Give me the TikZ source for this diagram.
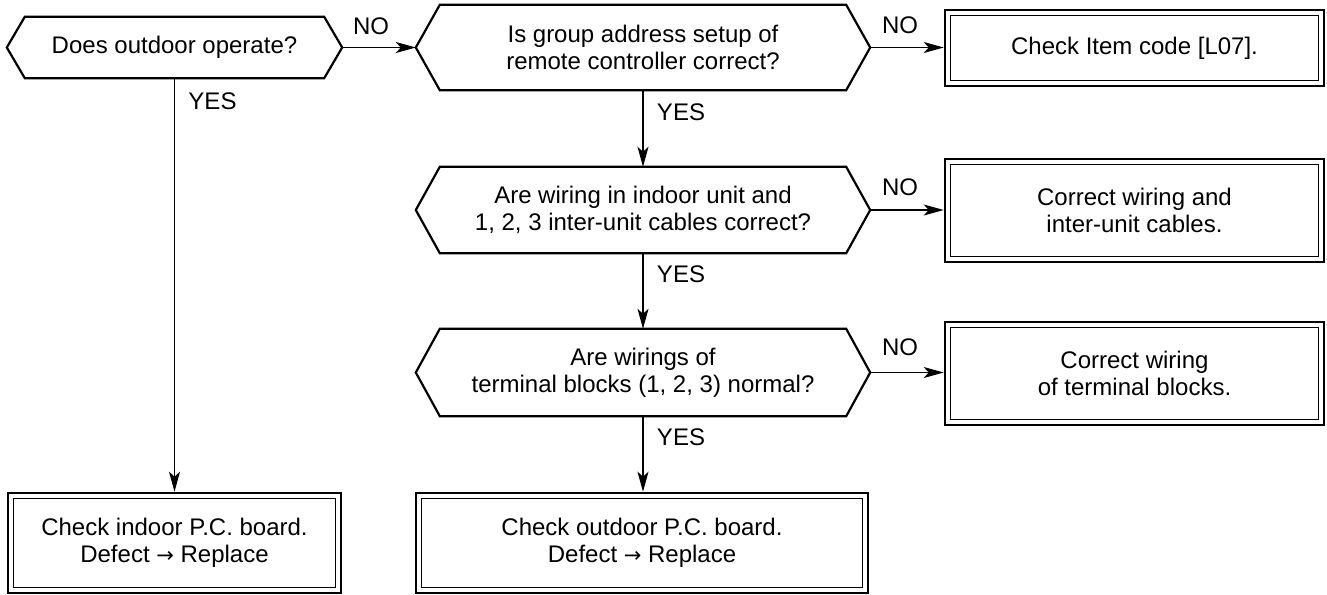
\documentclass[tikz,border=0pt]{standalone}
\usepackage{fontspec}
\setmainfont{Liberation Sans}
\newfontfamily\arrowfont{DejaVu Sans}
\usetikzlibrary{arrows.meta}
\begin{document}
\begin{tikzpicture}[x=1pt,y=1pt,
  every node/.style={font=\fontsize{24}{27}\selectfont},
  hexnode/.style={rectangle,inner sep=0pt,align=center},
  hexline/.style={line width=2.2pt,line join=miter},
  outerbox/.style={draw,line width=2.6pt,rectangle,inner sep=0pt,align=center},
  innerline/.style={line width=1.3pt},
  conn/.style={line width=1.2pt,-{Stealth[length=20pt,width=11pt,inset=5pt]}},
  lbl/.style={inner sep=0pt}
]
\useasboundingbox (0,0) rectangle (1327,-594);

% decision nodes
\node[hexnode,minimum width=335pt,minimum height=61pt] (h1) at (174.5,-47.5) {Does outdoor operate?};
\node[hexnode,minimum width=454pt,minimum height=85pt] (h2) at (643,-47.5) {Is group address setup of\\remote controller correct?};
\node[hexnode,minimum width=454pt,minimum height=86pt] (h3) at (643,-210) {Are wiring in indoor unit and\\1, 2, 3 inter-unit cables correct?};
\node[hexnode,minimum width=454pt,minimum height=87pt] (h4) at (643,-372.5) {Are wirings of\\terminal blocks (1, 2, 3) normal?};

\draw[hexline] (h1.west) -- ([xshift=18pt]h1.north west) -- ([xshift=-18pt]h1.north east) -- (h1.east)
  -- ([xshift=-18pt]h1.south east) -- ([xshift=18pt]h1.south west) -- cycle;
\foreach \n in {h2,h3,h4}{
  \draw[hexline] (\n.west) -- ([xshift=24pt]\n.north west) -- ([xshift=-24pt]\n.north east) -- (\n.east)
    -- ([xshift=-24pt]\n.south east) -- ([xshift=24pt]\n.south west) -- cycle;
}

% action boxes
\node[outerbox,minimum width=379pt,minimum height=76pt] (b1) at (1134.5,-48) {Check Item code [L07].};
\node[outerbox,minimum width=379pt,minimum height=103pt] (b2) at (1134.5,-210.5) {Correct wiring and\\inter-unit cables.};
\node[outerbox,minimum width=379pt,minimum height=103pt] (b3) at (1134.5,-373.5) {Correct wiring\\of terminal blocks.};
\node[outerbox,minimum width=333pt,minimum height=100pt] (b4) at (174.5,-543) {Check indoor P.C. board.\\Defect {\arrowfont\fontsize{21}{27}\selectfont →} Replace};
\node[outerbox,minimum width=452pt,minimum height=100pt] (b5) at (642,-543) {Check outdoor P.C. board.\\Defect {\arrowfont\fontsize{21}{27}\selectfont →} Replace};

\foreach \n in {b1,b2,b3,b4,b5}{
  \draw[innerline] ([xshift=7pt,yshift=-7pt]\n.north west) rectangle ([xshift=-7pt,yshift=7pt]\n.south east);
}

% connectors
\draw[conn] (h1.east) -- (h2.west);
\draw[conn] (h2.east) -- (h2.east -| b1.west);
\draw[conn] (h2.south) -- (h3.north);
\draw[conn] (h3.east) -- (h3.east -| b2.west);
\draw[conn] (h3.south) -- (h4.north);
\draw[conn] (h4.east) -- (h4.east -| b3.west);
\draw[conn] (h4.south) -- (h4.south |- b5.north);
\draw[conn] (h1.south) -- (h1.south |- b4.north);

% labels
\node[lbl] (n1) at (371,-26) {NO};
\node[lbl] (n2) at (900,-25) {NO};
\node[lbl] (n3) at (900,-187) {NO};
\node[lbl] (n4) at (900,-347.5) {NO};
\node[lbl] (y1) at (212.5,-101) {YES};
\node[lbl] (y2) at (681,-112.5) {YES};
\node[lbl] (y3) at (681,-274) {YES};
\node[lbl] (y4) at (681,-437.5) {YES};
\end{tikzpicture}
\end{document}
